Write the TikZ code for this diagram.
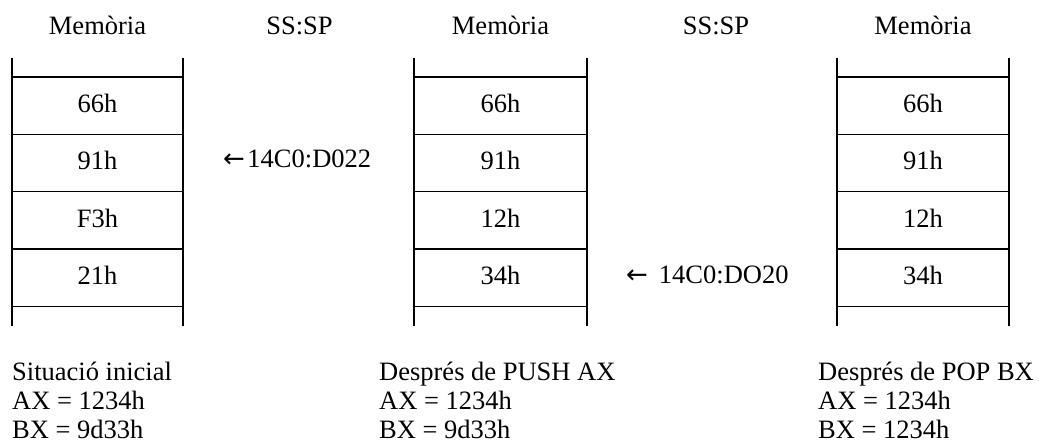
\documentclass[tikz,border=0pt]{standalone}
\usepackage{fontspec}
\setmainfont{Liberation Serif}
\newfontfamily\arrowfont{DejaVu Sans}
\newcommand{\larr}{{\arrowfont\fontsize{26}{30}\selectfont ←}}
\begin{document}
\begin{tikzpicture}[x=1pt,y=-1pt,
  txt/.style={inner sep=0pt, anchor=base, font=\fontsize{26.5}{30}\selectfont},
  lbl/.style={txt, anchor=base west},
  rulel/.style={line width=1.3pt, black}]
\useasboundingbox (0,0) rectangle (1039,446);
% stacks
\foreach \c/\xl/\xr in {1/12/183, 2/414/587, 3/837/1009}{
  \draw[rulel] (\xl,58) -- (\xl,326);
  \draw[rulel] (\xr,58) -- (\xr,326);
  \foreach \yy in {77,134.3,191.7,249,306.3}
    \draw[rulel] (\xl,\yy) -- (\xr,\yy);
}
% headers
\node[txt] (m1) at (97.5,35) {Memòria};
\node[txt] (s1) at (299.5,35) {SS:SP};
\node[txt] (m2) at (500.5,35) {Memòria};
\node[txt] (s2) at (716,35) {SS:SP};
\node[txt] (m3) at (923,35) {Memòria};
% cells column 1
\node[txt] (a1) at (97.5,112.7) {66h};
\node[txt] (a2) at (97.5,170) {91h};
\node[txt] (a3) at (97.5,227.4) {F3h};
\node[txt] (a4) at (97.5,284.7) {21h};
% cells column 2
\node[txt] (b1) at (500.5,112.7) {66h};
\node[txt] (b2) at (500.5,170) {91h};
\node[txt] (b3) at (500.5,227.4) {12h};
\node[txt] (b4) at (500.5,284.7) {34h};
% cells column 3
\node[txt] (c1) at (923,112.7) {66h};
\node[txt] (c2) at (923,170) {91h};
\node[txt] (c3) at (923,227.4) {12h};
\node[txt] (c4) at (923,284.7) {34h};
% stack pointers
\node[lbl] (p1) at (223,168) {\larr\hspace{2.5pt}14C0:D022};
\node[lbl] (p2) at (626,283.5) {\larr\hspace{11pt}14C0:DO20};
% captions
\node[lbl] (t11) at (12,380) {Situació inicial};
\node[lbl] (t12) at (12,409) {AX = 1234h};
\node[lbl] (t13) at (12,438) {BX = 9d33h};
\node[lbl] (t21) at (379,380) {Després de PUSH AX};
\node[lbl] (t22) at (379,409) {AX = 1234h};
\node[lbl] (t23) at (379,438) {BX = 9d33h};
\node[lbl] (t31) at (818,380) {Després de POP BX};
\node[lbl] (t32) at (818,409) {AX = 1234h};
\node[lbl] (t33) at (818,438) {BX = 1234h};
\end{tikzpicture}
\end{document}
